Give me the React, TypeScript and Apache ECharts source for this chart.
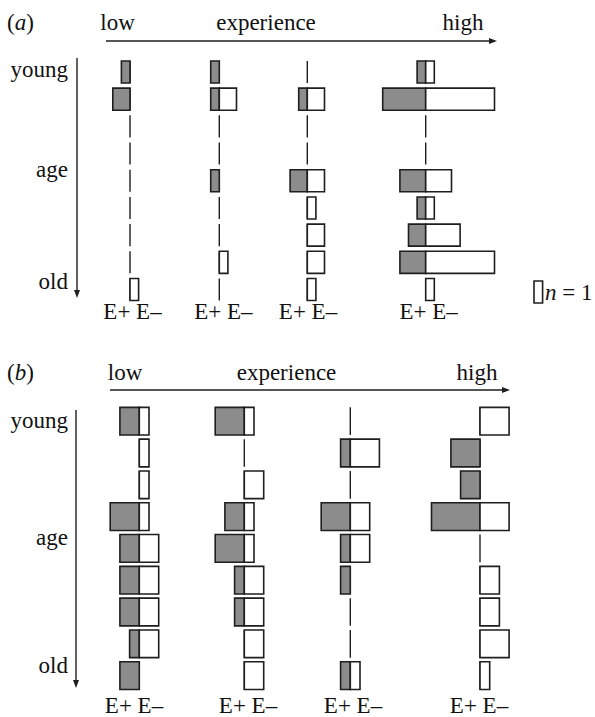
import React, { useEffect, useRef } from "react";
import * as echarts from "echarts";

// ---------- data ----------
const rowNames = ["1", "2", "3", "4", "5", "6", "7", "8", "9"]; // age classes, young -> old
const experienceLabels = ["low", "experience", "high"];
const ageLabels = ["young", "age", "old"];
const groupLabel = "E+ E\u2013";
const legendLabel = "{i|n} = 1";

// panel (a): counts per age class for each experience column
const a1Plus = [1, 2, 0, 0, 0, 0, 0, 0, 0];
const a1Minus = [0, 0, 0, 0, 0, 0, 0, 0, 1];
const a2Plus = [1, 1, 0, 0, 1, 0, 0, 0, 0];
const a2Minus = [0, 2, 0, 0, 0, 0, 0, 1, 0];
const a3Plus = [0, 1, 0, 0, 2, 0, 0, 0, 0];
const a3Minus = [0, 2, 0, 0, 2, 1, 2, 2, 1];
const a4Plus = [1, 5, 0, 0, 3, 1, 2, 3, 0];
const a4Minus = [1, 8, 0, 0, 3, 1, 4, 8, 1];

// panel (b)
const b1Plus = [2, 0, 0, 3, 2, 2, 2, 1, 2];
const b1Minus = [1, 1, 1, 1, 2, 2, 2, 2, 0];
const b2Plus = [3, 0, 0, 2, 3, 1, 1, 0, 0];
const b2Minus = [1, 0, 2, 1, 1, 2, 2, 2, 2];
const b3Plus = [0, 1, 0, 3, 1, 1, 0, 0, 1];
const b3Minus = [0, 3, 0, 2, 2, 0, 0, 0, 1];
const b4Plus = [0, 3, 2, 5, 0, 0, 0, 0, 0];
const b4Minus = [3, 0, 0, 3, 0, 2, 2, 3, 1];

// ---------- layout ----------
const W = 595;
const H = 717;
const FONT = "'Liberation Serif', 'DejaVu Serif', serif";
const FS = 23;
const INK = "#1e1e1e";
const GREY = "#8c8c8c";

const panelA = {
  unit: 8.6,
  centres: [130, 219.3, 307.3, 425.7],
  top: 58.4,
  height: 244.7,
  barRatio: 0.81,
  plus: [a1Plus, a2Plus, a3Plus, a4Plus],
  minus: [a1Minus, a2Minus, a3Minus, a4Minus],
};
const panelB = {
  unit: 9.7,
  centres: [139.3, 244.3, 350.3, 480],
  top: 405.3,
  height: 286.2,
  barRatio: 0.87,
  plus: [b1Plus, b2Plus, b3Plus, b4Plus],
  minus: [b1Minus, b2Minus, b3Minus, b4Minus],
};

function buildSeries(panel: any, idx: number) {
  const data: any[] = [];
  panel.plus.forEach((plusArr: number[], c: number) => {
    plusArr.forEach((p: number, r: number) => {
      data.push([c, r, p, panel.minus[c][r]]);
    });
  });
  const centresU = panel.centres.map((px: number) => px / panel.unit);
  return {
    type: "custom",
    xAxisIndex: idx,
    yAxisIndex: idx,
    silent: true,
    data,
    renderItem: (params: any, api: any) => {
      const c = centresU[api.value(0)];
      const r = api.value(1);
      const p = api.value(2);
      const m = api.value(3);
      const pc = api.coord([c, r]);
      const pl = api.coord([c - p, r]);
      const pr = api.coord([c + m, r]);
      const h = api.size([0, 1])[1] * panel.barRatio;
      const y0 = pc[1] - h / 2;
      const children: any[] = [
        {
          type: "line",
          shape: { x1: pc[0], y1: y0, x2: pc[0], y2: y0 + h },
          style: { stroke: INK, lineWidth: 1.4 },
        },
      ];
      if (p > 0) {
        children.push({
          type: "rect",
          shape: { x: pl[0], y: y0, width: pc[0] - pl[0], height: h },
          style: { fill: GREY, stroke: INK, lineWidth: 1.6 },
        });
      }
      if (m > 0) {
        children.push({
          type: "rect",
          shape: { x: pc[0], y: y0, width: pr[0] - pc[0], height: h },
          style: { fill: "#ffffff", stroke: INK, lineWidth: 1.6 },
        });
      }
      return { type: "group", children };
    },
  };
}

function txt(text: string, x: number, y: number, align: string, extra: any = {}) {
  return {
    type: "text",
    x,
    y,
    silent: true,
    style: {
      text,
      fill: "#111",
      font: `${FS}px ${FONT}`,
      fontFamily: FONT,
      fontSize: FS,
      align,
      verticalAlign: "middle",
      ...extra,
    },
  };
}

const italicRich = {
  rich: {
    i: { fontStyle: "italic", fontFamily: FONT, fontSize: FS, fill: "#111" },
  },
};

function arrowH(x1: number, x2: number, y: number) {
  return [
    { type: "line", silent: true, shape: { x1, y1: y, x2: x2 - 6, y2: y }, style: { stroke: INK, lineWidth: 1.4 } },
    { type: "polygon", silent: true, shape: { points: [[x2 - 8, y - 3], [x2, y], [x2 - 8, y + 3]] }, style: { fill: INK } },
  ];
}
function arrowV(x: number, y1: number, y2: number) {
  return [
    { type: "line", silent: true, shape: { x1: x, y1, x2: x, y2: y2 - 6 }, style: { stroke: INK, lineWidth: 1.4 } },
    { type: "polygon", silent: true, shape: { points: [[x - 3, y2 - 8], [x, y2], [x + 3, y2 - 8]] }, style: { fill: INK } },
  ];
}

export default function App() {
  const ref = useRef<HTMLDivElement>(null);
  useEffect(() => {
    if (!ref.current) return;
    const chart = echarts.init(ref.current, undefined, { renderer: "svg" });
    const panels = [panelA, panelB];
    const groupA = [132.5, 223.3, 308, 428.7];
    const groupB = [134, 248, 353, 479];
    const graphics: any[] = [
      // panel (a)
      txt("({i|a})", 7, 22, "left", italicRich),
      txt(experienceLabels[0], 117.5, 22, "center"),
      txt(experienceLabels[1], 266, 22, "center"),
      txt(experienceLabels[2], 463, 22, "center"),
      ...arrowH(106, 497, 41),
      ...arrowV(77, 58, 298),
      txt(ageLabels[0], 68, 69, "right"),
      txt(ageLabels[1], 68, 169, "right"),
      txt(ageLabels[2], 68, 281, "right"),
      ...groupA.map((x) => txt(groupLabel, x, 311, "center")),
      {
        type: "rect",
        silent: true,
        shape: { x: 534, y: 281, width: 8.6, height: 22 },
        style: { fill: "#fff", stroke: INK, lineWidth: 1.6 },
      },
      txt(legendLabel, 545, 292, "left", italicRich),
      // panel (b)
      txt("({i|b})", 7, 372, "left", italicRich),
      txt(experienceLabels[0], 125, 372, "center"),
      txt(experienceLabels[1], 286.5, 372, "center"),
      txt(experienceLabels[2], 477, 372, "center"),
      ...arrowH(110, 510, 390),
      ...arrowV(76, 410, 688),
      txt(ageLabels[0], 68, 420, "right"),
      txt(ageLabels[1], 68, 537, "right"),
      txt(ageLabels[2], 68, 665, "right"),
      ...groupB.map((x) => txt(groupLabel, x, 705, "center")),
    ];
    chart.setOption({
      animation: false,
      backgroundColor: "#ffffff",
      grid: panels.map((p) => ({ left: 0, right: 0, top: p.top, height: p.height })),
      xAxis: panels.map((p, i) => ({
        type: "value",
        gridIndex: i,
        min: 0,
        max: W / p.unit,
        show: false,
      })),
      yAxis: panels.map((p, i) => ({
        type: "category",
        gridIndex: i,
        data: rowNames,
        inverse: true,
        show: false,
      })),
      series: panels.map((p, i) => buildSeries(p, i)),
      graphic: graphics,
    });
    return () => chart.dispose();
  }, []);
  return (
    <div
      ref={ref}
      style={{ position: "absolute", left: 0, top: 0, width: W, height: H }}
    />
  );
}
